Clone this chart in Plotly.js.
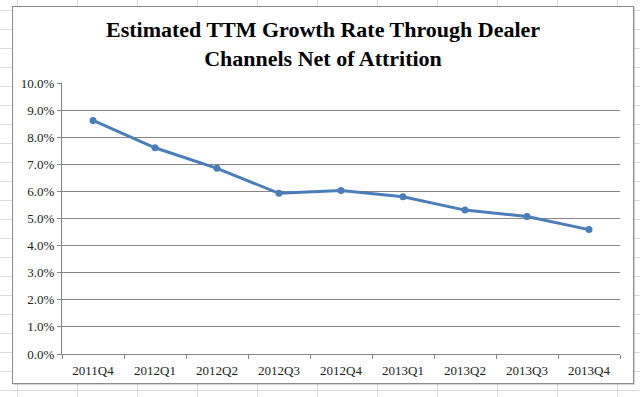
<!DOCTYPE html>
<html>
<head>
<meta charset="utf-8">
<script src="https://cdn.plot.ly/plotly-3.0.1.min.js"></script>
<style>
  html, body { margin: 0; padding: 0; width: 640px; height: 397px; overflow: hidden; }
  body {
    background-color: #ffffff;
    background-image:
      repeating-linear-gradient(to right, transparent 0px, transparent 17px, #dcdcdc 17px, #dcdcdc 18px, transparent 18px, transparent 60px),
      repeating-linear-gradient(to bottom, transparent 0px, transparent 10px, #dcdcdc 10px, #dcdcdc 11px, transparent 11px, transparent 19px);
    background-size: 60px 100%, 100% 19px;
  }
  #chart {
    position: absolute; left: 12px; top: 6px; width: 620px; height: 376px;
    border: 1px solid #8c8c8c; background: #fff;
    box-shadow: 1px 1px 1px rgba(0,0,0,0.15);
  }
</style>
</head>
<body>
<div id="chart"></div>
<script>
const quarters = ['2011Q4','2012Q1','2012Q2','2012Q3','2012Q4','2013Q1','2013Q2','2013Q3','2013Q4'];
const growthRate = [0.0862, 0.0761, 0.0685, 0.0593, 0.0603, 0.0580, 0.0531, 0.0507, 0.0459];

const data = [{
  type: 'scatter',
  mode: 'lines+markers',
  x: quarters,
  y: growthRate,
  line: { color: '#4a7ebb', width: 3 },
  marker: { color: '#4a7ebb', size: 7 },
  hoverinfo: 'skip'
}];

const layout = {
  width: 620, height: 376,
  margin: { l: 49, r: 13, t: 76, b: 29 },
  paper_bgcolor: '#ffffff',
  plot_bgcolor: '#ffffff',
  showlegend: false,
  font: { family: '"Liberation Serif", "Times New Roman", serif', size: 13, color: '#222' },
  title: {
    text: '<b>Estimated TTM Growth Rate Through Dealer<br>Channels Net of Attrition</b>',
    font: { family: '"Liberation Serif", "Times New Roman", serif', size: 22, color: '#000' },
    x: 0.5, xref: 'container', xanchor: 'center',
    y: 0.92, yref: 'container', yanchor: 'top'
  },
  xaxis: {
    type: 'category',
    range: [-0.5, 8.5],
    tickson: 'boundaries',
    ticks: 'outside', ticklen: 4, tickcolor: '#868686',
    ticklabelstandoff: 4,
    showline: true, linecolor: '#868686', linewidth: 1,
    showgrid: false, zeroline: false,
    tickfont: { size: 13, color: '#222' }
  },
  yaxis: {
    range: [0, 0.10],
    dtick: 0.01,
    tickformat: '.1%',
    ticks: 'outside', ticklen: 4, tickcolor: '#868686',
    showline: true, linecolor: '#868686', linewidth: 1,
    showgrid: true, gridcolor: '#868686', gridwidth: 1,
    zeroline: false,
    tickfont: { size: 13, color: '#222' }
  }
};

Plotly.newPlot('chart', data, layout, { staticPlot: true, displayModeBar: false });
</script>
</body>
</html>
